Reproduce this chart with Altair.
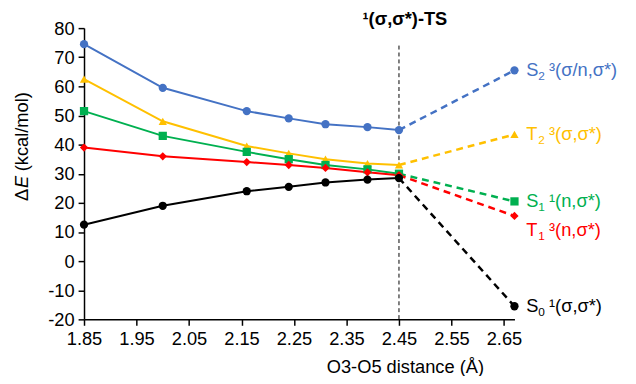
import altair as alt
import pandas as pd

x_vals = [1.85, 2.00, 2.16, 2.24, 2.31, 2.39, 2.45, 2.67]
series = ["S2", "T2", "S1", "T1", "S0"]
s2 = [74.5, 59.5, 51.5, 49.0, 47.0, 46.0, 45.0, 65.5]
t2 = [62.5, 48.0, 39.5, 37.0, 35.0, 33.5, 33.0, 43.5]
s1 = [51.5, 43.0, 37.5, 35.0, 33.0, 31.5, 30.0, 20.5]
t1 = [39.0, 36.0, 34.0, 33.0, 32.0, 30.5, 29.5, 15.5]
s0 = [12.5, 19.0, 24.0, 25.5, 27.0, 28.0, 28.5, -15.5]
lab_main = ["S", "T", "S", "T", "S"]
lab_sub = ["2", "2", "1", "1", "0"]
lab_rest = ["\u00b3(\u03c3/n,\u03c3*)", "\u00b3(\u03c3,\u03c3*)", "\u00b9(n,\u03c3*)",
            "\u00b3(n,\u03c3*)", "\u00b9(\u03c3,\u03c3*)"]
label_y = [65.5, 43.5, 20.5, 10.5, -15.5]
colors = ["#4472C4", "#FFC000", "#00B050", "#FF0000", "#000000"]
shapes = ["circle", "triangle-up", "square", "diamond", "circle"]
ts_x = 2.45
ts_label = "\u00b9(\u03c3,\u03c3*)-TS"
x_ticks = [1.85, 1.95, 2.05, 2.15, 2.25, 2.35, 2.45, 2.55, 2.65]
y_ticks = list(range(-20, 81, 10))

vals = [s2, t2, s1, t1, s0]
rows = []
for name, v in zip(series, vals):
    for i, (x, y) in enumerate(zip(x_vals, v)):
        rows.append({"series": name, "x": x, "y": y, "idx": i})
df = pd.DataFrame(rows)
solid = df[df.idx <= 6]
dashed = df[df.idx >= 6]
lab_df = pd.DataFrame({"series": series, "main": lab_main, "sub": lab_sub, "rest": lab_rest,
                       "x": [x_vals[-1]] * 5, "y": label_y})

FONT = "Liberation Sans"
FS = 18.5
xs = alt.Scale(domain=[1.85, 2.67], nice=False, zero=False)
ys = alt.Scale(domain=[-20, 80], nice=False)
col = alt.Color("series:N", scale=alt.Scale(domain=series, range=colors), legend=None)

xaxis = alt.Axis(values=x_ticks, format=".2f", title="O3-O5 distance (Å)",
                 grid=False, titleX=325, titleAlign="center",
                 titlePadding=10, labelFlush=False, labelOverlap=False)
yaxis = alt.Axis(values=y_ticks, title=None, grid=False, labelOverlap=False, labelFlush=False,
                 labelExpr="datum.value + ''")
xenc = alt.X("x:Q", scale=xs, axis=xaxis)
yenc = alt.Y("y:Q", scale=ys, axis=yaxis)

rule = alt.Chart(pd.DataFrame({"x": [ts_x], "y": [74], "y2": [-20]})).mark_rule(
    color="black", strokeWidth=1, strokeDash=[4, 3]).encode(x=xenc, y=yenc, y2="y2:Q")
lines = alt.Chart(solid).mark_line(strokeWidth=2).encode(x=xenc, y=yenc, color=col, detail="series:N")
dlines = alt.Chart(dashed).mark_line(strokeWidth=2.5, strokeDash=[7, 5]).encode(
    x=xenc, y=yenc, color=col, detail="series:N")
points = alt.Chart(df).mark_point(filled=True, size=70, opacity=1).encode(
    x=xenc, y=yenc, color=col,
    shape=alt.Shape("series:N", scale=alt.Scale(domain=series, range=shapes), legend=None))
ts_text = alt.Chart(pd.DataFrame({"x": [ts_x], "t": [ts_label]})).mark_text(
    font=FONT, fontSize=18.5, fontWeight="bold", color="black", baseline="middle", dx=6).encode(
    x=xenc, y=alt.value(-9), text="t:N")

lab_base = alt.Chart(lab_df)
t_main = lab_base.mark_text(font=FONT, fontSize=FS, align="left", dx=12, baseline="middle").encode(
    x=xenc, y=yenc, text="main:N", color=col)
t_sub = lab_base.mark_text(font=FONT, fontSize=12, align="left", dx=24, dy=6, baseline="middle").encode(
    x=xenc, y=yenc, text="sub:N", color=col)
t_rest = lab_base.mark_text(font=FONT, fontSize=FS, align="left", dx=35, baseline="middle").encode(
    x=xenc, y=yenc, text="rest:N", color=col)

# y-axis title with italic E (pixel positions inside the plot frame)
ytitle_norm = pd.DataFrame({"t": ["\u0394", "(kcal/mol)"], "py": [175, 145]})
ytitle_ital = pd.DataFrame({"t": ["E"], "py": [162]})
yt1 = alt.Chart(ytitle_norm).mark_text(
    font=FONT, fontSize=FS, angle=270, align="left", baseline="middle", color="black").encode(
    x=alt.value(-63), y=alt.Y("py:Q", scale=None), text="t:N")
yt2 = alt.Chart(ytitle_ital).mark_text(
    font=FONT, fontSize=FS, fontStyle="italic", angle=270, align="left", baseline="middle",
    color="black").encode(x=alt.value(-63), y=alt.Y("py:Q", scale=None), text="t:N")

chart = alt.layer(rule, lines, dlines, points, ts_text, t_main, t_sub, t_rest, yt1, yt2).properties(
    width=436, height=295, autosize="none",
    padding={"left": 77, "top": 18, "right": 115, "bottom": 55}
).configure_view(stroke=None).configure_axis(
    labelFont=FONT, titleFont=FONT, labelFontSize=FS, titleFontSize=FS, labelColor="black",
    titleColor="black", titleFontWeight="normal", domainColor="black", tickColor="black",
    tickSize=6, domainWidth=1.5, tickWidth=1.5, labelPadding=4
)
chart.save("out.html", embed_options={"renderer": "svg", "actions": False})
